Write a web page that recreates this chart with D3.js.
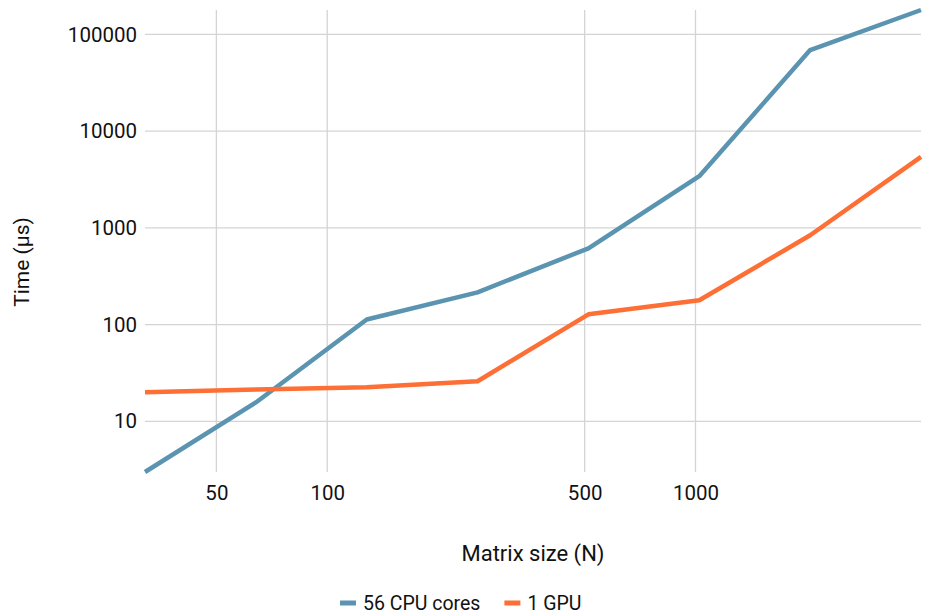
<!DOCTYPE html>
<html>
<head>
<meta charset="utf-8">
<script src="https://cdn.jsdelivr.net/npm/d3@7"></script>
<style>
  html, body { margin: 0; padding: 0; background: #fff; }
  svg { display: block; font-family: Roboto, "Noto Sans", sans-serif; }
</style>
</head>
<body>
<svg id="chart" width="928" height="614"></svg>
<script>
const sizes = [32, 64, 128, 256, 512, 1024, 2048, 4096];
const cpuTimes = [3, 15.7, 113, 216, 616, 3430, 69000, 179000];
const gpuTimes = [20, 21.4, 22.5, 26, 128, 179, 840, 5430];
const seriesNames = ["56 CPU cores", "1 GPU"];
const seriesColors = ["#5a94b1", "#fd6f35"];
const xTicks = [50, 100, 500, 1000];
const yTicks = [10, 100, 1000, 10000, 100000];

const svg = d3.select("#chart");
const m = { left: 145, right: 921, top: 10, bottom: 472 };

const x = d3.scaleLog().domain([32, 4096]).range([m.left, m.right]);
const y = d3.scaleLog().domain([3, 179000]).range([m.bottom, m.top]);

// grid
svg.append("g").selectAll("line").data(yTicks).join("line")
  .attr("x1", m.left).attr("x2", m.right)
  .attr("y1", d => y(d)).attr("y2", d => y(d))
  .attr("stroke", "#d4d4d4").attr("stroke-width", 1.3);
svg.append("g").selectAll("line").data(xTicks).join("line")
  .attr("x1", d => x(d)).attr("x2", d => x(d))
  .attr("y1", m.top).attr("y2", m.bottom)
  .attr("stroke", "#d4d4d4").attr("stroke-width", 1.3);

// axes (labels only)
const yAxis = d3.axisLeft(y).tickValues(yTicks).tickFormat(d3.format("d")).tickSize(0).tickPadding(8);
const gy = svg.append("g").attr("transform", `translate(${m.left},0)`).call(yAxis);
gy.select(".domain").remove();
gy.selectAll("text").attr("font-size", 20.5).attr("fill", "#111").attr("font-family", "Roboto");

const xAxis = d3.axisBottom(x).tickValues(xTicks).tickFormat(d3.format("d")).tickSize(0).tickPadding(13);
const gx = svg.append("g").attr("transform", `translate(0,${m.bottom})`).call(xAxis);
gx.select(".domain").remove();
gx.selectAll("text").attr("font-size", 20.5).attr("fill", "#111").attr("font-family", "Roboto");

// lines
const line = d3.line().x((d, i) => x(sizes[i])).y(d => y(d));
[cpuTimes, gpuTimes].forEach((vals, k) => {
  svg.append("path").datum(vals)
    .attr("d", line)
    .attr("fill", "none")
    .attr("stroke", seriesColors[k])
    .attr("stroke-width", 4.5)
    .attr("stroke-linejoin", "round");
});

// titles
svg.append("text").attr("x", (m.left + m.right) / 2).attr("y", 561)
  .attr("text-anchor", "middle").attr("font-size", 22).attr("fill", "#111")
  .text("Matrix size (N)");
svg.append("text").attr("transform", "translate(29,262) rotate(-90)")
  .attr("text-anchor", "middle").attr("font-size", 21).attr("fill", "#111")
  .text("Time (μs)");

// legend
const legend = svg.append("g").attr("transform", "translate(340,603)");
let lx = 0;
seriesNames.forEach((name, k) => {
  const g = legend.append("g").attr("transform", `translate(${lx},0)`);
  g.append("rect").attr("x", 0).attr("y", -2.5).attr("width", 16).attr("height", 5)
    .attr("fill", seriesColors[k]);
  const t = g.append("text").attr("x", 23).attr("y", 6.5).attr("font-size", 19.5)
    .attr("fill", "#111").text(name);
  lx += 23 + t.node().getComputedTextLength() + 24;
});
</script>
</body>
</html>
